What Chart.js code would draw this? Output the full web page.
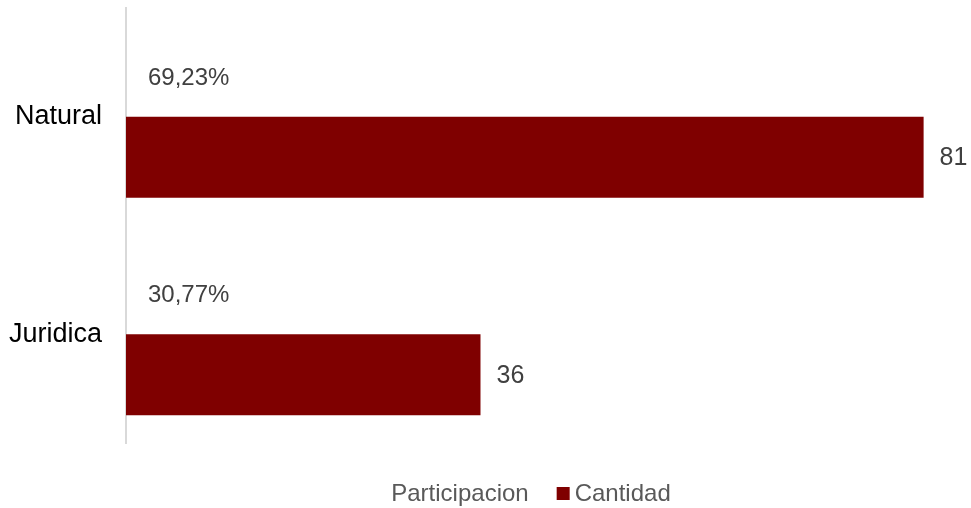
<!DOCTYPE html>
<html>
<head>
<meta charset="utf-8">
<script src="https://cdn.jsdelivr.net/npm/chart.js@4.4.1/dist/chart.umd.min.js"></script>
<style>
  html, body { margin: 0; padding: 0; background: #fff; }
  #wrap { width: 971px; height: 508px; position: relative; }
</style>
</head>
<body>
<div id="wrap"><canvas id="barChart"></canvas></div>
<script>
const categories = ['Natural', 'Juridica'];
const participacion = [69.23, 30.77];
const cantidad = [81, 36];
const seriesNames = ['Participacion', 'Cantidad'];

const barColor = '#7F0000';
const labelColor = '#404040';
const legendColor = '#595959';
const fontFamily = '"Liberation Sans", Arial, sans-serif';

function fmtPct(v) {
    return v.toFixed(2).replace('.', ',') + '%';
}

// data labels: percentages near the base, counts after the bar end
const labelPlugin = {
    id: 'barLabels',
    afterDatasetsDraw(chart) {
        const ctx = chart.ctx;
        ctx.save();
        ctx.fillStyle = labelColor;
        ctx.textBaseline = 'middle';
        ctx.textAlign = 'left';
        chart.data.datasets.forEach((ds, di) => {
            const meta = chart.getDatasetMeta(di);
            meta.data.forEach((bar, i) => {
                if (di === 0) {
                    ctx.font = '24px ' + fontFamily;
                    ctx.fillText(fmtPct(ds.data[i]), bar.base + 22, bar.y + 2);
                } else {
                    ctx.font = '25px ' + fontFamily;
                    ctx.fillText(String(ds.data[i]), bar.x + 16, bar.y + 1);
                }
            });
        });
        ctx.restore();
    }
};

// legend like the original: no marker for Participacion, small square for Cantidad
const legendPlugin = {
    id: 'bottomLegend',
    afterDraw(chart) {
        const ctx = chart.ctx;
        ctx.save();
        ctx.font = '24px ' + fontFamily;
        ctx.textBaseline = 'middle';
        ctx.textAlign = 'left';
        const box = 13, boxGap = 5, itemGap = 28;
        const w0 = ctx.measureText(seriesNames[0]).width;
        const w1 = ctx.measureText(seriesNames[1]).width;
        const total = w0 + itemGap + box + boxGap + w1;
        const cy = 494;
        let x = 531 - total / 2;
        ctx.fillStyle = legendColor;
        ctx.fillText(seriesNames[0], x, cy);
        x += w0 + itemGap;
        ctx.fillStyle = barColor;
        ctx.fillRect(x, cy - 7, box, box);
        x += box + boxGap;
        ctx.fillStyle = legendColor;
        ctx.fillText(seriesNames[1], x, cy);
        ctx.restore();
    }
};

const ctx = document.getElementById('barChart').getContext('2d');
new Chart(ctx, {
    type: 'bar',
    data: {
        labels: categories,
        datasets: [
            {
                label: seriesNames[0],
                data: participacion,
                backgroundColor: 'rgba(0,0,0,0)',
                xAxisID: 'x2'
            },
            {
                label: seriesNames[1],
                data: cantidad,
                backgroundColor: barColor,
                xAxisID: 'x'
            }
        ]
    },
    options: {
        indexAxis: 'y',
        responsive: true,
        maintainAspectRatio: false,
        animation: false,
        categoryPercentage: 0.745,
        barPercentage: 1,
        layout: { padding: { top: 8, right: 8, bottom: 65, left: 0 } },
        plugins: {
            legend: { display: false },
            tooltip: { enabled: false }
        },
        scales: {
            x: { display: false, min: 0, max: 85 },
            x2: { display: false, min: 0, max: 100 },
            y: {
                grid: { display: false },
                border: { display: true, color: '#D9D9D9', width: 2 },
                ticks: {
                    color: '#000',
                    padding: 16,
                    font: { size: 27, family: fontFamily }
                },
                afterFit(scale) {
                    scale.width = 126;
                    scale.paddingTop = 0;
                    scale.paddingBottom = 0;
                }
            }
        }
    },
    plugins: [labelPlugin, legendPlugin]
});
</script>
</body>
</html>
